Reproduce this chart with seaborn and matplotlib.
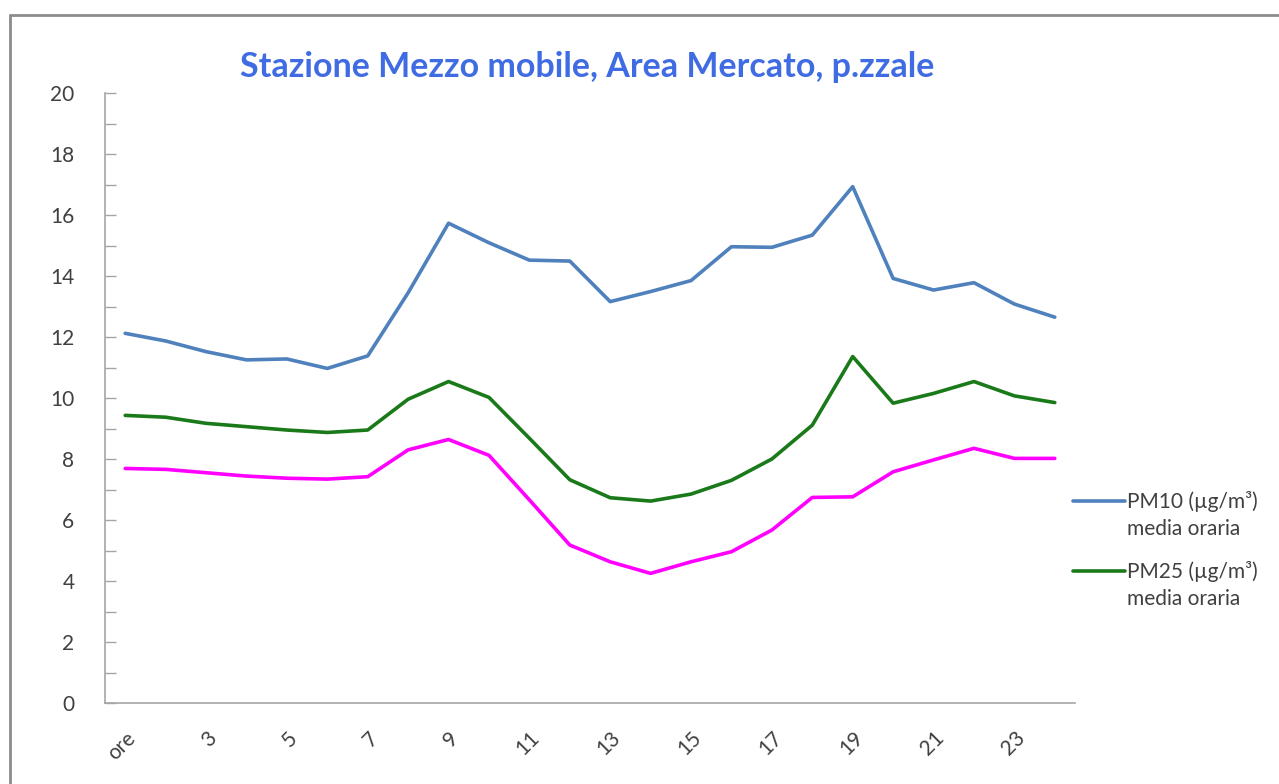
import numpy as np
import pandas as pd
import matplotlib
matplotlib.use("Agg")
import matplotlib.pyplot as plt
import seaborn as sns
from matplotlib.lines import Line2D
from matplotlib.ticker import MultipleLocator

hours = ["ore"] + [str(h) for h in range(2, 25)]
pm10 = [12.12, 11.87, 11.52, 11.25, 11.28, 10.97, 11.38, 13.45, 15.73, 15.09, 14.52, 14.49,
        13.16, 13.49, 13.85, 14.96, 14.94, 15.34, 16.93, 13.92, 13.54, 13.78, 13.08, 12.65]
pm25 = [9.43, 9.37, 9.17, 9.06, 8.95, 8.87, 8.95, 9.96, 10.54, 10.02, 8.68, 7.32,
        6.73, 6.62, 6.85, 7.30, 8.00, 9.11, 11.36, 9.83, 10.15, 10.54, 10.07, 9.85]
pm1 = [7.69, 7.66, 7.55, 7.44, 7.37, 7.34, 7.42, 8.30, 8.64, 8.12, 6.66, 5.18,
       4.63, 4.25, 4.63, 4.96, 5.67, 6.74, 6.76, 7.58, 7.97, 8.35, 8.02, 8.02]

series_names = ["PM10 (\u00b5g/m\u00b3)\nmedia oraria", "PM25 (\u00b5g/m\u00b3)\nmedia oraria", "PM1"]
colors = ["#4F81BD", "#1A7A1A", "#FF00FF"]
title = "Stazione Mezzo mobile, Area Mercato, p.zzale"

sns.set_theme(style="white")
plt.rcParams["font.family"] = ["Lato", "DejaVu Sans"]

pos = np.arange(len(hours))
df = pd.DataFrame({
    "pos": np.concatenate([pos, pos, pos]),
    "value": pm10 + pm25 + pm1,
    "series": [series_names[0]] * 24 + [series_names[1]] * 24 + [series_names[2]] * 24,
})

fig = plt.figure(figsize=(12.79, 7.84), dpi=100)
W, H = 1279, 784
ax = fig.add_axes([105 / W, 1 - 703 / H, (1075 - 105) / W, (703 - 93) / H])

sns.lineplot(data=df, x="pos", y="value", hue="series", palette=colors,
             hue_order=series_names, linewidth=2.6, ax=ax, legend=False, sort=False)

ax.set_xlim(-0.5, 23.5)
ax.set_ylim(0, 20)
ax.yaxis.set_major_locator(MultipleLocator(2))
ax.yaxis.set_minor_locator(MultipleLocator(1))
ax.set_xticks(pos)
ax.set_xticklabels([h if i % 2 == 0 else "" for i, h in enumerate(hours)],
                   rotation=45, ha="right", rotation_mode="anchor")
ax.tick_params(axis="x", length=0, pad=18, labelsize=15, labelcolor="#404040")
ax.tick_params(axis="y", which="both", direction="in", length=8, width=1,
               color="#A6A6A6", left=True, pad=22, labelsize=15, labelcolor="#404040")
ax.set_xlabel("")
ax.set_ylabel("")
for s in ["top", "right"]:
    ax.spines[s].set_visible(False)
for s in ["left", "bottom"]:
    ax.spines[s].set_color("#A6A6A6")
    ax.spines[s].set_linewidth(1.2)

fig.text(587 / W, 1 - 67 / H, title, ha="center", va="center",
         fontsize=24.5, fontweight="bold", color="#3F6BE3")

handles = [Line2D([], [], color=colors[0], linewidth=2.6),
           Line2D([], [], color=colors[1], linewidth=2.6)]
leg = fig.legend(handles, series_names[:2], loc="upper left",
                 bbox_to_anchor=(1058 / W, 1 - 476 / H), frameon=False,
                 fontsize=15, handlelength=2.5, handletextpad=0.1,
                 labelspacing=1.05, labelcolor="#404040", borderpad=0.2)
for t in leg.get_texts():
    t.set_linespacing(1.45)
for ln in leg.get_lines():
    ln.set_ydata(np.asarray(ln.get_ydata()) + 10.5)

# outer chart frame (partially cropped in the reference)
fig.add_artist(Line2D([10 / W, 10 / W], [0, 1 - 15 / H], color="#8C8C8C", linewidth=2,
                      transform=fig.transFigure))
fig.add_artist(Line2D([10 / W, 1], [1 - 15 / H, 1 - 15 / H], color="#8C8C8C", linewidth=2,
                      transform=fig.transFigure))

fig.savefig("out.png", dpi=100)
